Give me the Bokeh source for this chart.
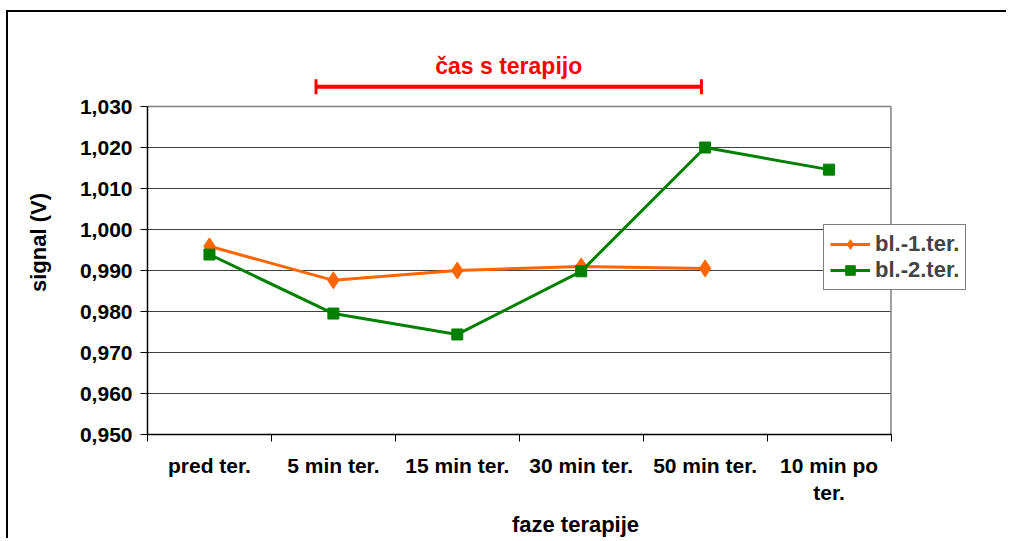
from bokeh.plotting import figure
from bokeh.models import (ColumnDataSource, FixedTicker, CustomJSTickFormatter,
                          Range1d, Legend, LegendItem, Arrow, TeeHead, Label)
from bokeh.embed import file_html
from bokeh.resources import INLINE

# ---- data ----
categories = ["pred ter.", "5 min ter.", "15 min ter.", "30 min ter.", "50 min ter.", "10 min po\nter."]
series1_name = "bl.-1.ter."
series1 = [0.9959, 0.9876, 0.9900, 0.9910, 0.9905]
series2_name = "bl.-2.ter."
series2 = [0.9939, 0.9795, 0.9744, 0.9898, 1.0200, 1.0146]
y_ticks = [0.95, 0.96, 0.97, 0.98, 0.99, 1.00, 1.01, 1.02, 1.03]
therapy_label = "čas s terapijo"
therapy_start = 1.36   # in category units
therapy_end = 4.47
therapy_y = 1.0348
therapy_label_y = 1.0398

FONT = "Liberation Sans"
n = len(categories)
centers = [i + 0.5 for i in range(n)]
y_min, y_max = y_ticks[0], y_ticks[-1]

# layout (pixels)
W, H = 1000, 528
L, R, T, B = 139, 5, 38, 106
AREA_W, AREA_H = 743.5, 328.0          # size of the plotted area within the frame
frame_w, frame_h = W - L - R, H - T - B
x_end = n * frame_w / AREA_W
y_end = y_min + (y_max - y_min) * frame_h / AREA_H

p = figure(width=W, height=H, output_backend="svg", toolbar_location=None,
           x_range=Range1d(0, x_end), y_range=Range1d(y_min, y_end),
           min_border_left=L, min_border_right=R, min_border_top=T, min_border_bottom=B)
p.margin = (10, 0, 0, 6)
p.styles = {"border-left": "2px solid black", "border-top": "2px solid black"}
p.background_fill_color = "white"
p.border_fill_color = "white"
p.outline_line_color = None
p.xgrid.grid_line_color = None
p.ygrid.grid_line_color = None

# grid lines and plot-area edges
inner = y_ticks[1:-1]
p.segment(x0=[0] * len(inner), x1=[n] * len(inner), y0=inner, y1=inner,
          line_color="#404040", line_width=1)
p.segment(x0=[0, n], x1=[n, n], y0=[y_max, y_min], y1=[y_max, y_max],
          line_color="#808080", line_width=1.5)

# y axis
p.yaxis.bounds = (y_min, y_max)
p.yaxis.ticker = FixedTicker(ticks=y_ticks)
p.yaxis.formatter = CustomJSTickFormatter(code="return tick.toFixed(3).replace('.', ',');")
p.yaxis.axis_label = "signal (V)"
p.yaxis.minor_tick_line_color = None
p.yaxis.major_tick_out = 7
p.yaxis.major_tick_in = 0
p.yaxis.major_tick_line_color = "black"
p.yaxis.major_label_standoff = 8
p.yaxis.axis_label_standoff = 26

# x axis
p.xaxis.bounds = (0, n)
p.xaxis.ticker = FixedTicker(ticks=centers, minor_ticks=list(range(n + 1)))
p.xaxis.major_label_overrides = {c: lab for c, lab in zip(centers, categories)}
p.xaxis.major_tick_out = 6
p.xaxis.minor_tick_out = 7
p.xaxis.minor_tick_in = 0
p.xaxis.minor_tick_line_color = "black"
p.xaxis.axis_label = "faze terapije"
p.xaxis.major_label_standoff = 12
p.xaxis.axis_label_standoff = 5

for ax in (p.xaxis, p.yaxis):
    ax.axis_line_color = "black"
    ax.axis_line_width = 1.5
    ax.major_label_text_font = FONT
    ax.major_label_text_font_style = "bold"
    ax.major_label_text_font_size = "21px"
    ax.major_label_text_color = "black"
    ax.axis_label_text_font = FONT
    ax.axis_label_text_font_style = "bold"
    ax.axis_label_text_font_size = "22px"
    ax.axis_label_text_color = "black"
p.xaxis.major_tick_line_color = None

# series
src1 = ColumnDataSource(dict(x=centers[:len(series1)], y=series1))
src2 = ColumnDataSource(dict(x=centers[:len(series2)], y=series2))
l1 = p.line("x", "y", source=src1, line_color="#FF6600", line_width=3)
m1 = p.scatter("x", "y", source=src1, marker="diamond", size=17, fill_color="#FF6600", line_color="#FF6600")
l2 = p.line("x", "y", source=src2, line_color="#008000", line_width=3)
m2 = p.scatter("x", "y", source=src2, marker="square", size=11, fill_color="#008000", line_color="#008000")

# therapy annotation
p.add_layout(Arrow(start=TeeHead(line_color="red", line_width=3, size=15),
                   end=TeeHead(line_color="red", line_width=3, size=15),
                   x_start=therapy_start, x_end=therapy_end, y_start=therapy_y, y_end=therapy_y,
                   line_color="red", line_width=4))
p.add_layout(Label(x=(therapy_start + therapy_end) / 2, y=therapy_label_y, text=therapy_label,
                   text_align="center", text_baseline="middle", text_color="red",
                   text_font=FONT, text_font_style="bold", text_font_size="23px"))

legend = Legend(items=[LegendItem(label=series1_name, renderers=[l1, m1]),
                       LegendItem(label=series2_name, renderers=[l2, m2])],
                location=(676, 144))
legend.border_line_color = "black"
legend.border_line_width = 1.5
legend.background_fill_alpha = 1
legend.label_text_font = FONT
legend.label_text_font_style = "bold"
legend.label_text_font_size = "22px"
legend.glyph_width = 40
legend.glyph_height = 24
legend.padding = 6
legend.spacing = 0
legend.label_standoff = 5
legend.margin = 0
p.add_layout(legend, "center")

open("out.html", "w").write(file_html(p, INLINE))
